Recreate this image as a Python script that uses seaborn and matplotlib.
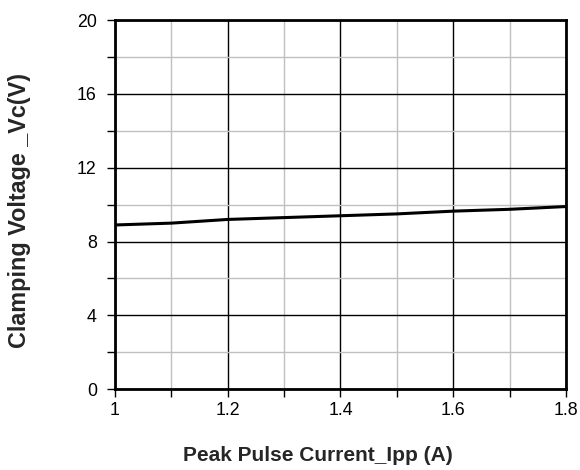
import numpy as np
import pandas as pd
import matplotlib
matplotlib.use("Agg")
import matplotlib.pyplot as plt
import seaborn as sns
from matplotlib.ticker import MultipleLocator

# values
current = [1.0, 1.1, 1.2, 1.3, 1.4, 1.5, 1.6, 1.7, 1.8]
voltage = [8.9, 9.0, 9.2, 9.3, 9.4, 9.5, 9.65, 9.75, 9.9]
x_ticks = [1.0, 1.2, 1.4, 1.6, 1.8]
x_tick_labels = ['1', '1.2', '1.4', '1.6', '1.8']
y_ticks = [0, 4, 8, 12, 16, 20]

df = pd.DataFrame({'Ipp': current, 'Vc': voltage})

sns.set_theme(style='white')
plt.rcParams['font.family'] = ['Liberation Sans', 'DejaVu Sans']

fig = plt.figure(figsize=(5.8, 4.7), dpi=100)
ax = fig.add_axes([0.198, 0.172, 0.778, 0.785])

sns.lineplot(x='Ipp', y='Vc', data=df, ax=ax, color='black', linewidth=2.2)

ax.set_xlim(1, 1.8)
ax.set_ylim(0, 20)
ax.set_xticks(x_ticks)
ax.set_xticklabels(x_tick_labels)
ax.set_yticks(y_ticks)
ax.xaxis.set_minor_locator(MultipleLocator(0.1))
ax.yaxis.set_minor_locator(MultipleLocator(2))

ax.grid(which='minor', color='#c0c0c0', linewidth=1)
ax.grid(which='major', color='black', linewidth=1)
ax.set_axisbelow(True)

for s in ax.spines.values():
    s.set_color('black')
    s.set_linewidth(2)

ax.tick_params(which='both', direction='out', length=6, width=1, color='black',
               bottom=True, left=True, labelsize=12.8, labelcolor='black')
ax.tick_params(axis='x', which='both', pad=3)
ax.tick_params(axis='y', which='both', pad=7)

ax.set_xlabel('Peak Pulse Current_Ipp (A)', fontsize=15, fontweight='bold')
ax.set_ylabel('Clamping Voltage _Vc(V)', fontsize=16.8, fontweight='bold')
# label positions, in axes fractions
ax.xaxis.set_label_coords(0.45, -0.155)
ax.yaxis.set_label_coords(-0.186, 0.485)

fig.savefig('out.png', dpi=100)
